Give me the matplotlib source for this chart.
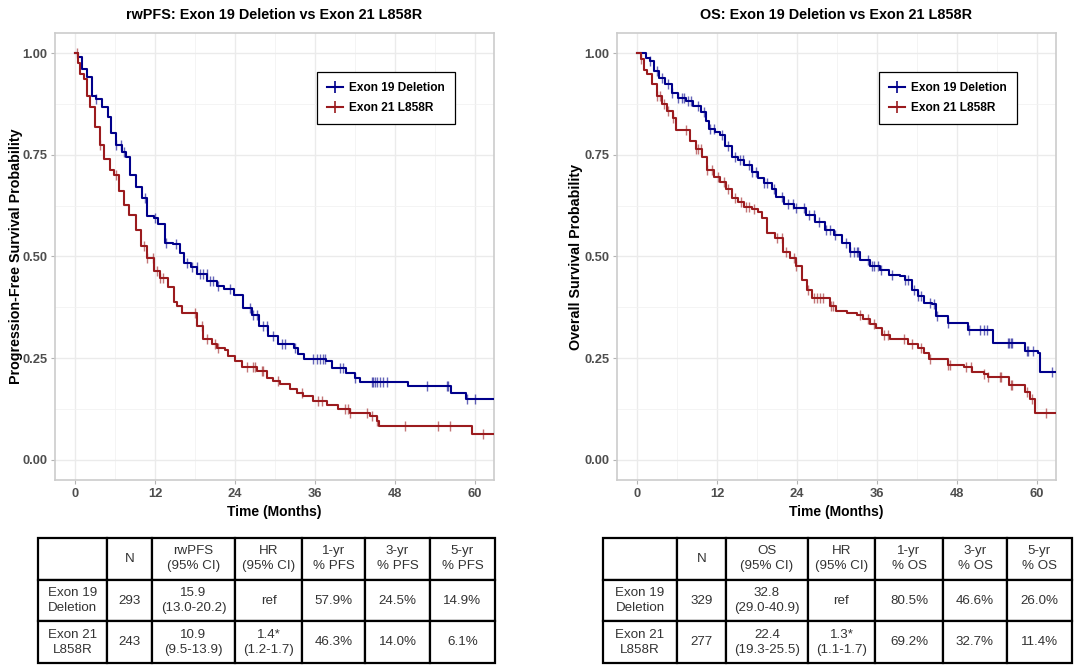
import matplotlib
matplotlib.use("Agg")
import matplotlib.pyplot as plt
from matplotlib.lines import Line2D
import numpy as np

plt.rcParams['font.family'] = ['Liberation Sans', 'DejaVu Sans']

# ---- KM curves: (months, survival) ----
pfs19_t = [0, 0.5, 1.0, 1.8, 2.5, 3.2, 4.0, 4.9, 5.4, 6.1, 7.1, 7.6, 8.3, 9.1, 10.0, 10.8, 11.8, 12.5,
           13.5, 14.7, 15.7, 16.4, 17.4, 18.3, 19.8, 21.3, 22.4, 23.8, 25.2, 26.6, 27.6, 29.0, 30.5,
           32.9, 33.4, 34.3, 37.7, 38.6, 40.6, 42.0, 42.7, 49.9, 56.4, 58.6, 62.9]
pfs19_s = [1.0, 0.99, 0.962, 0.941, 0.896, 0.888, 0.868, 0.843, 0.803, 0.774, 0.758, 0.745, 0.701, 0.672,
           0.644, 0.599, 0.595, 0.579, 0.534, 0.530, 0.509, 0.485, 0.473, 0.456, 0.440, 0.428, 0.420,
           0.406, 0.374, 0.357, 0.328, 0.304, 0.284, 0.276, 0.259, 0.247, 0.243, 0.226, 0.214, 0.202,
           0.190, 0.181, 0.165, 0.149, 0.149]
pfs19_cens = [3.2, 6.2, 6.9, 7.4, 10.5, 12.0, 13.7, 15.2, 16.75, 17.5, 18.25, 18.75, 19.25, 19.75, 20.25,
              20.75, 21.5, 23.25, 26.25, 26.75, 27.25, 28.25, 28.75, 29.75, 31.0, 31.5, 33.0, 35.75, 36.25,
              36.75, 37.25, 37.5, 39.75, 40.25, 42.0, 44.5, 44.75, 45.0, 45.25, 45.75, 46.25, 46.75, 52.75,
              55.75, 56.0, 58.75, 60.0]

pfs21_t = [0, 0.4, 0.8, 1.3, 1.8, 2.2, 3.0, 3.7, 4.4, 5.2, 5.9, 6.6, 7.4, 8.1, 9.1, 9.9, 10.75, 11.8,
           12.7, 13.9, 14.9, 15.3, 16.0, 18.25, 19.25, 20.5, 21.25, 22.5, 23.0, 24.0, 25.0, 27.25, 28.75,
           29.75, 30.75, 32.25, 33.25, 34.25, 35.75, 37.75, 39.5, 41.25, 44.25, 45.25, 45.6, 59.6, 62.9]
pfs21_s = [1.0, 0.975, 0.949, 0.937, 0.896, 0.868, 0.819, 0.774, 0.741, 0.713, 0.701, 0.660, 0.627, 0.603,
           0.566, 0.525, 0.496, 0.465, 0.448, 0.424, 0.387, 0.377, 0.361, 0.329, 0.296, 0.284, 0.276,
           0.271, 0.255, 0.243, 0.227, 0.218, 0.202, 0.194, 0.186, 0.173, 0.165, 0.157, 0.145, 0.134,
           0.124, 0.116, 0.108, 0.096, 0.082, 0.062, 0.062]
pfs21_cens = [0.3, 3.7, 6.1, 10.3, 10.75, 11.75, 12.25, 12.75, 13.25, 18.0, 19.0, 19.75, 21.0, 21.5, 25.75,
              26.75, 27.0, 28.0, 28.25, 30.5, 34.0, 36.5, 37.0, 40.5, 41.0, 41.25, 43.75, 44.5, 45.25,
              49.5, 54.5, 56.25, 61.25]

os19_t = [0, 1.3, 2.0, 2.5, 3.25, 4.2, 5.2, 6.2, 7.4, 8.35, 9.6, 10.3, 10.8, 11.75, 12.5, 13.2, 14.2,
          15.1, 16.1, 17.3, 18.1, 19.0, 20.2, 20.8, 22.0, 23.6, 25.3, 26.7, 28.2, 29.6, 30.8, 32.0, 33.5,
          34.9, 36.4, 37.8, 39.5, 40.2, 41.2, 42.1, 43.1, 44.3, 44.8, 46.7, 49.6, 53.4, 58.2, 60.2, 60.4,
          62.9]
os19_s = [1.0, 0.989, 0.981, 0.956, 0.940, 0.924, 0.903, 0.891, 0.883, 0.871, 0.855, 0.834, 0.814, 0.806,
          0.798, 0.773, 0.745, 0.737, 0.724, 0.708, 0.692, 0.680, 0.667, 0.647, 0.630, 0.620, 0.602,
          0.586, 0.566, 0.553, 0.533, 0.512, 0.492, 0.476, 0.467, 0.455, 0.451, 0.443, 0.418, 0.402,
          0.386, 0.382, 0.353, 0.337, 0.320, 0.288, 0.267, 0.263, 0.216, 0.216]
os19_cens = [2.0, 3.0, 3.7, 4.7, 5.2, 6.2, 6.7, 7.1, 7.6, 8.1, 9.1, 10.1, 11.0, 11.5, 12.7, 13.7, 14.7,
             15.4, 15.9, 16.8, 17.3, 17.8, 19.0, 19.5, 20.5, 21.7, 22.7, 23.4, 23.9, 25.1, 25.8, 26.6,
             27.3, 28.3, 29.0, 29.7, 31.3, 32.0, 32.5, 33.0, 33.2, 34.7, 35.2, 35.6, 36.1, 36.6, 38.3,
             40.2, 40.7, 41.6, 42.1, 42.6, 44.0, 44.5, 45.0, 46.7, 49.8, 51.5, 52.0, 52.5, 55.6, 55.8,
             56.1, 56.3, 58.5, 58.7, 59.4, 62.3]

os21_t = [0, 0.6, 1.1, 1.55, 2.3, 3.0, 3.7, 4.5, 5.4, 5.9, 7.9, 8.8, 9.8, 10.5, 11.5, 12.5, 13.4, 14.2,
          15.1, 16.1, 17.3, 18.1, 18.8, 19.5, 20.7, 21.9, 22.9, 23.9, 24.8, 25.5, 26.3, 28.9, 29.9, 31.5,
          33.0, 33.9, 34.9, 35.9, 36.8, 38.0, 40.7, 42.1, 43.1, 43.8, 46.7, 49.1, 50.3, 52.0, 52.7, 55.8,
          58.2, 58.9, 59.7, 62.9]
os21_s = [1.0, 0.985, 0.960, 0.948, 0.924, 0.895, 0.875, 0.859, 0.842, 0.812, 0.785, 0.765, 0.745, 0.712,
          0.696, 0.684, 0.667, 0.643, 0.635, 0.623, 0.618, 0.610, 0.594, 0.557, 0.545, 0.512, 0.496,
          0.476, 0.443, 0.418, 0.398, 0.378, 0.366, 0.361, 0.357, 0.345, 0.333, 0.325, 0.308, 0.296,
          0.284, 0.276, 0.263, 0.247, 0.233, 0.227, 0.215, 0.211, 0.203, 0.185, 0.166, 0.150, 0.116,
          0.116]
os21_cens = [0.6, 3.0, 3.5, 4.0, 4.7, 5.4, 7.4, 8.8, 9.1, 9.6, 10.5, 11.3, 12.2, 13.0, 13.7, 14.7, 15.6,
             16.4, 16.8, 17.6, 21.0, 21.7, 22.4, 23.6, 23.9, 25.6, 26.5, 27.0, 27.5, 27.9, 29.1, 29.4,
             33.5, 34.7, 35.6, 37.1, 37.6, 40.0, 41.2, 42.6, 44.0, 46.7, 46.9, 49.3, 50.1, 52.0, 52.7,
             54.4, 54.6, 56.1, 56.3, 58.5, 59.2, 61.4]

groups = ['Exon 19 Deletion', 'Exon 21 L858R']
titles = ['rwPFS: Exon 19 Deletion vs Exon 21 L858R', 'OS: Exon 19 Deletion vs Exon 21 L858R']
ylabels = ['Progression-Free Survival Probability', 'Overall Survival Probability']

# ---- summary tables ----
row_labels = ['Exon 19\nDeletion', 'Exon 21\nL858R']
pfs_header = ['', 'N', 'rwPFS\n(95% CI)', 'HR\n(95% CI)', '1-yr\n% PFS', '3-yr\n% PFS', '5-yr\n% PFS']
pfs_n = ['293', '243']
pfs_median = ['15.9\n(13.0-20.2)', '10.9\n(9.5-13.9)']
pfs_hr = ['ref', '1.4*\n(1.2-1.7)']
pfs_1yr = ['57.9%', '46.3%']
pfs_3yr = ['24.5%', '14.0%']
pfs_5yr = ['14.9%', '6.1%']

os_header = ['', 'N', 'OS\n(95% CI)', 'HR\n(95% CI)', '1-yr\n% OS', '3-yr\n% OS', '5-yr\n% OS']
os_n = ['329', '277']
os_median = ['32.8\n(29.0-40.9)', '22.4\n(19.3-25.5)']
os_hr = ['ref', '1.3*\n(1.1-1.7)']
os_1yr = ['80.5%', '69.2%']
os_3yr = ['46.6%', '32.7%']
os_5yr = ['26.0%', '11.4%']

colors = ['#00008B', '#9B1B1E']


def surv_at(t_knots, s_knots, tc):
    idx = np.searchsorted(np.asarray(t_knots), np.asarray(tc), side='right') - 1
    return np.asarray(s_knots)[idx]


fig = plt.figure(figsize=(10.8, 6.66), dpi=100)

panel_left = [55 / 1080, 617 / 1080]
ylab_x = [-0.073, -0.078]
curves = [[(pfs19_t, pfs19_s, pfs19_cens), (pfs21_t, pfs21_s, pfs21_cens)],
          [(os19_t, os19_s, os19_cens), (os21_t, os21_s, os21_cens)]]

for k in range(2):
    ax = fig.add_axes([panel_left[k], 1 - 480 / 666, 439 / 1080, 447 / 666])
    for g in range(2):
        t, s, cens = curves[k][g]
        ax.step(t, s, where='post', color=colors[g], lw=1.5, zorder=3)
        ax.plot(cens, surv_at(t, s, cens), ls='none', marker='|', ms=7, mew=1.0,
                color=colors[g], alpha=0.6, zorder=3)
    ax.set_xlim(-3.0, 62.85)
    ax.set_ylim(-0.05, 1.05)
    ax.set_xticks(np.arange(0, 61, 12))
    ax.set_xticks(np.arange(6, 61, 12), minor=True)
    ax.set_yticks([0, 0.25, 0.5, 0.75, 1.0])
    ax.set_yticklabels(['0.00', '0.25', '0.50', '0.75', '1.00'])
    ax.set_yticks([0.125, 0.375, 0.625, 0.875], minor=True)
    ax.grid(which='major', color='#EBEBEB', lw=1.0, zorder=0)
    ax.grid(which='minor', color='#F2F2F2', lw=0.6, zorder=0)
    ax.set_axisbelow(True)
    for sp in ax.spines.values():
        sp.set_color('#CCCCCC')
        sp.set_linewidth(1.2)
    ax.tick_params(which='major', length=3, width=0.8, color='#B3B3B3', labelsize=9.3,
                   labelcolor='#4D4D4D', pad=2.5)
    ax.tick_params(which='minor', length=0)
    for lab in ax.get_xticklabels() + ax.get_yticklabels():
        lab.set_fontweight('bold')
    ax.set_title(titles[k], fontsize=10.4, fontweight='bold', pad=10)
    ax.set_xlabel('Time (Months)', fontsize=10, fontweight='bold')
    ax.xaxis.set_label_coords(0.5, -0.055)
    ax.set_ylabel(ylabels[k], fontsize=10.3, fontweight='bold')
    ax.yaxis.set_label_coords(ylab_x[k], 0.5)

    handles = [Line2D([0], [0], color=colors[g], lw=1.5, marker='+', ms=9, mew=1.2) for g in range(2)]
    leg = ax.legend(handles, groups, loc='upper left', bbox_to_anchor=(0.597, 0.913),
                    borderaxespad=0, fancybox=False, framealpha=1, edgecolor='black',
                    handlelength=1.3, borderpad=0.85, labelspacing=0.65, handletextpad=0.55,
                    prop={'weight': 'bold', 'size': 8.6})
    leg.get_frame().set_linewidth(0.9)

# tables
tables = [
    (pfs_header, pfs_n, pfs_median, pfs_hr, pfs_1yr, pfs_3yr, pfs_5yr,
     [38, 107, 152, 235, 302, 365, 430, 495]),
    (os_header, os_n, os_median, os_hr, os_1yr, os_3yr, os_5yr,
     [603, 677, 726, 808, 875, 943, 1007, 1072]),
]
for header, n, med, hr, y1, y3, y5, edges in tables:
    tax = fig.add_axes([edges[0] / 1080, 1 - 663 / 666, (edges[-1] - edges[0]) / 1080, 125 / 666])
    tax.axis('off')
    widths = np.diff(edges) / (edges[-1] - edges[0])
    body = [header] + [[row_labels[i], n[i], med[i], hr[i], y1[i], y3[i], y5[i]] for i in range(2)]
    tbl = tax.table(cellText=body, colWidths=list(widths), cellLoc='center', bbox=[0, 0, 1, 1])
    tbl.auto_set_font_size(False)
    for (r, c), cell in tbl.get_celld().items():
        cell.set_linewidth(1.6)
        cell.set_edgecolor('black')
        cell.get_text().set_fontsize(9.6)
        cell.get_text().set_color('#333333')
        cell.get_text().set_linespacing(1.3)

fig.savefig('out.png', dpi=100)
